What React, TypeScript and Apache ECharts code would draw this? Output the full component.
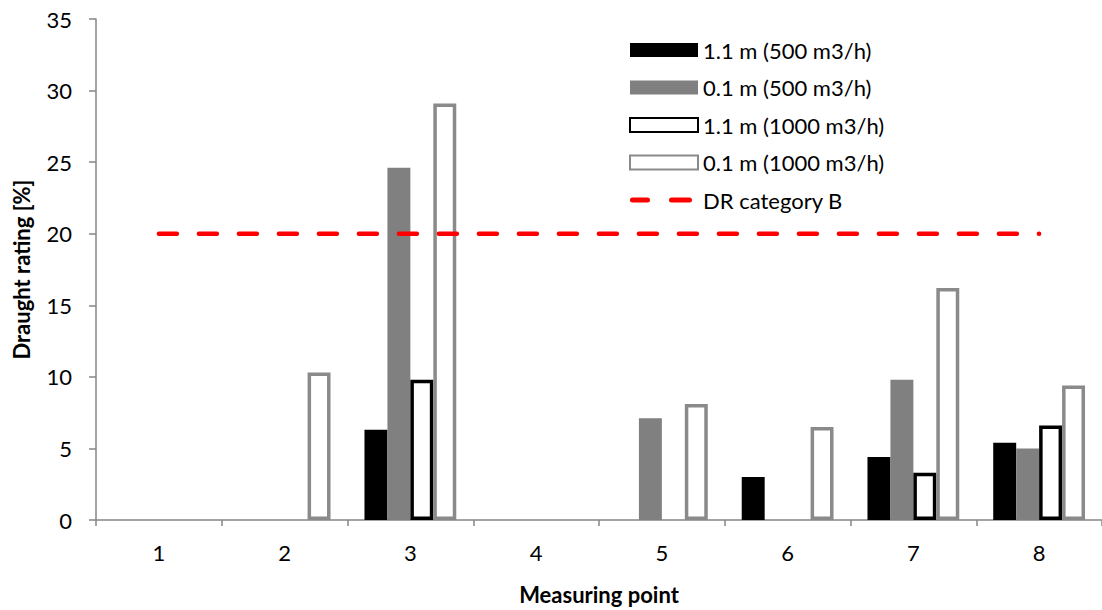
import React, { useEffect, useRef } from "react";
import * as echarts from "echarts";

const categories = ["1", "2", "3", "4", "5", "6", "7", "8"];
const s11m500: (number | null)[] = [null, null, 6.3, null, null, 3.0, 4.4, 5.4];
const s01m500: (number | null)[] = [null, null, 24.6, null, 7.1, null, 9.8, 5.0];
const s11m1000: (number | null)[] = [null, null, 9.8, null, null, null, 3.3, 6.6];
const s01m1000: (number | null)[] = [null, 10.3, 29.1, null, 8.1, 6.5, 16.2, 9.4];
const drCategoryB: number[] = [20, 20, 20, 20, 20, 20, 20, 20];
const yTicks = { min: 0, max: 35, interval: 5 };

const FONT = "Lato, 'Open Sans', sans-serif";
const DASH_ICON =
  "path://M68,0L68,0ZM0,14L0,14Z" +
  "M2.5,4.5H17.5A2.5,2.5,0,0,1,17.5,9.5H2.5A2.5,2.5,0,0,1,2.5,4.5Z" +
  "M41.5,4.5H59.5A2.5,2.5,0,0,1,59.5,9.5H41.5A2.5,2.5,0,0,1,41.5,4.5Z";

export default function App() {
  const ref = useRef<HTMLDivElement>(null);
  useEffect(() => {
    if (!ref.current) return;
    const chart = echarts.init(ref.current, undefined, { renderer: "svg" });
    const axisGray = "#868686";
    chart.setOption({
      animation: false,
      backgroundColor: "#ffffff",
      textStyle: { fontFamily: FONT },
      grid: { left: 96, top: 19, width: 1010, height: 501, containLabel: false },
      legend: {
        orient: "vertical",
        left: 624,
        top: 33,
        itemWidth: 68,
        itemHeight: 14,
        itemGap: 13.5,
        textStyle: { fontSize: 22, color: "#000", fontFamily: FONT, lineHeight: 24 },
        data: [
          { name: "1.1 m (500 m3/h)", icon: "rect" },
          { name: "0.1 m (500 m3/h)", icon: "rect" },
          { name: "1.1 m (1000 m3/h)", icon: "rect" },
          { name: "0.1 m (1000 m3/h)", icon: "rect" },
          { name: "DR category B", icon: DASH_ICON, itemStyle: { color: "#ff0000", borderWidth: 0 } },
        ],
      },
      xAxis: {
        type: "category",
        data: categories,
        boundaryGap: true,
        name: "Measuring point",
        nameLocation: "middle",
        nameGap: 63,
        nameTextStyle: { fontSize: 22, fontWeight: "bold", color: "#000", fontFamily: FONT },
        axisLine: { lineStyle: { color: axisGray, width: 1.5 } },
        axisTick: { show: true, length: 6, lineStyle: { color: axisGray, width: 1.5 } },
        axisLabel: { fontSize: 22, color: "#000", margin: 21, fontFamily: FONT },
      },
      yAxis: {
        type: "value",
        min: yTicks.min,
        max: yTicks.max,
        interval: yTicks.interval,
        name: "Draught rating [%]",
        nameLocation: "middle",
        nameGap: 64,
        nameTextStyle: { fontSize: 22, fontWeight: "bold", color: "#000", fontFamily: FONT },
        axisLine: { show: true, lineStyle: { color: axisGray, width: 1.5 } },
        axisTick: { show: true, length: 7, lineStyle: { color: axisGray, width: 1.5 } },
        axisLabel: { fontSize: 22, color: "#000", margin: 24, fontFamily: FONT },
        splitLine: { show: false },
      },
      series: [
        {
          name: "1.1 m (500 m3/h)",
          type: "bar",
          data: s11m500,
          barGap: "0%",
          barCategoryGap: "27%",
          itemStyle: { color: "#000000" },
        },
        {
          name: "0.1 m (500 m3/h)",
          type: "bar",
          data: s01m500,
          barGap: "0%",
          barCategoryGap: "27%",
          itemStyle: { color: "#808080" },
        },
        {
          name: "1.1 m (1000 m3/h)",
          type: "bar",
          data: s11m1000,
          barGap: "0%",
          barCategoryGap: "27%",
          itemStyle: { color: "#ffffff", borderColor: "#000000", borderWidth: 3.5 },
        },
        {
          name: "0.1 m (1000 m3/h)",
          type: "bar",
          data: s01m1000,
          barGap: "0%",
          barCategoryGap: "27%",
          itemStyle: { color: "#ffffff", borderColor: "#8a8a8a", borderWidth: 3.5 },
        },
        {
          name: "DR category B",
          type: "line",
          data: drCategoryB,
          symbol: "none",
          z: 5,
          itemStyle: { color: "#ff0000" },
          lineStyle: { color: "#ff0000", width: 4.5, type: [18, 22], cap: "round" },
        },
      ],
    });
    return () => chart.dispose();
  }, []);
  return (
    <div
      ref={ref}
      style={{ position: "fixed", left: 0, top: 0, width: 1102, height: 610, background: "#fff" }}
    />
  );
}
